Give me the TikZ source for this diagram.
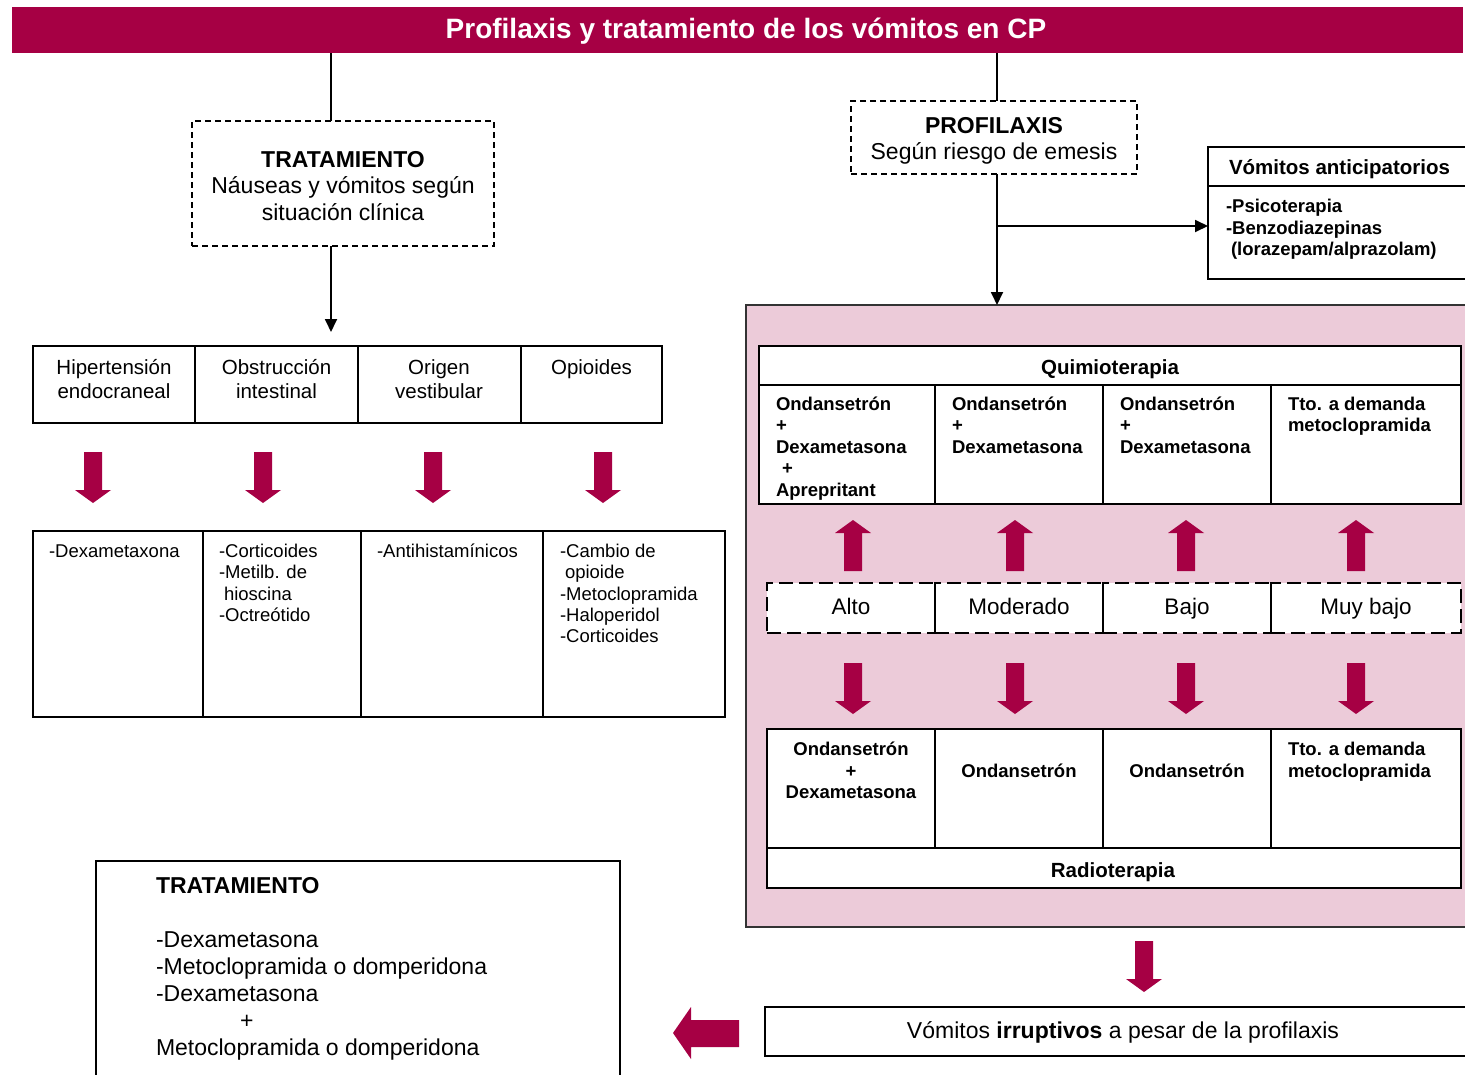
\documentclass[tikz,border=0pt]{standalone}
\usepackage{fontspec}
\setmainfont{Liberation Sans}
\usetikzlibrary{arrows.meta}
\definecolor{crim}{HTML}{A60044}
\definecolor{pinkbg}{HTML}{ECCBD9}
\newcommand\tr{\rule{0pt}{1em}}
\newcommand\fsz[2]{\fontsize{#1pt}{#2pt}\selectfont}
\newcommand\bx[6]{\node[#6, anchor=north west, inner sep=0pt, outer sep=0pt, minimum width=#4pt-#2pt, minimum height=#5pt-#3pt] (#1) at (#2,#3) {};}
\tikzset{
  cell/.style={draw=black, line width=2pt, fill=white},
  dbox/.style={draw=black, line width=1.5pt, dash pattern=on 6pt off 4pt, fill=white},
  riskbox/.style={draw=black, line width=2pt, dash pattern=on 14pt off 6pt, fill=white},
  t/.style={inner sep=0pt, outer sep=0pt},
  conn/.style={draw=black, line width=1.8pt},
  arr/.style={conn, -{Triangle[length=13pt,width=12pt]}},
  redarr/.pic={\fill[crim] (-9,0) -- (9,0) -- (9,38) -- (18,38) -- (0,51) -- (-18,38) -- (-9,38) -- cycle;},
  fT/.style={font=\fsz{23}{26.5}},
  fR/.style={font=\fsz{20.5}{24}},
  fS/.style={font=\fsz{18.5}{21.3}},
  fB/.style={font=\fsz{18.5}{21.5}\bfseries},
  fH/.style={font=\fsz{20.5}{24}\bfseries},
}
\begin{document}
\begin{tikzpicture}[x=1pt,y=-1pt]
\useasboundingbox (0,0) rectangle (1465,1074);

% title
\bx{titlebar}{12}{7}{1463}{53}{fill=crim}
\node[t, text=white, font=\fsz{28}{32}\bfseries, anchor=base] (title) at (746,38) {Profilaxis y tratamiento de los vómitos en CP};

% ---------- left branch ----------
\bx{trat}{192}{121}{494}{246}{dbox}
\node[t, fT, align=center, anchor=north] (tratT) at (343,144) {\tr\textbf{TRATAMIENTO}\\Náuseas y vómitos según\\situación clínica};
\draw[conn] (331,0 |- titlebar.south) -- (331,0 |- trat.north);
\coordinate (tratEnd) at (331,332);
\draw[arr] (tratEnd |- trat.south) -- (tratEnd);

\bx{h1}{33}{346}{195}{423}{cell}
\bx{h2}{195}{346}{358}{423}{cell}
\bx{h3}{358}{346}{521}{423}{cell}
\bx{h4}{521}{346}{662}{423}{cell}
\node[t, fR, align=center, anchor=north] (h1t) at (114,354) {\tr Hipertensión\\endocraneal};
\node[t, fR, align=center, anchor=north] (h2t) at (276.5,354) {\tr Obstrucción\\intestinal};
\node[t, fR, align=center, anchor=north] (h3t) at (439,354) {\tr Origen\\vestibular};
\node[t, fR, align=center, anchor=north] (h4t) at (591.5,354) {\tr Opioides};

\pic at (93,452) {redarr};
\pic at (263,452) {redarr};
\pic at (433,452) {redarr};
\pic at (603,452) {redarr};

\bx{b1}{33}{531}{203}{717}{cell}
\bx{b2}{203}{531}{361}{717}{cell}
\bx{b3}{361}{531}{543}{717}{cell}
\bx{b4}{543}{531}{725}{717}{cell}
\node[t, fS, align=left, anchor=north west] (b1t) at (49,539) {\tr -Dexametaxona};
\node[t, fS, align=left, anchor=north west] (b2t) at (219,539) {\tr -Corticoides\\-Metilb. de\\\hspace*{5pt}hioscina\\-Octreótido};
\node[t, fS, align=left, anchor=north west] (b3t) at (377,539) {\tr -Antihistamínicos};
\node[t, fS, align=left, anchor=north west] (b4t) at (560,539) {\tr -Cambio de\\\hspace*{5pt}opioide\\-Metoclopramida\\-Haloperidol\\-Corticoides};

% ---------- right branch ----------
\bx{pinkbox}{746}{305}{1472}{927}{draw=black!80, fill=pinkbg, line width=1.5pt}

\bx{prof}{851}{101}{1137}{174}{dbox}
\node[t, fT, align=center, anchor=north] (profT) at (994,110) {\tr\textbf{PROFILAXIS}\\Según riesgo de emesis};
\draw[conn] (997,0 |- titlebar.south) -- (997,0 |- prof.north);
\draw[arr] (997,0 |- prof.south) -- (997,0 |- pinkbox.north);

\bx{antich}{1208}{147}{1472}{186}{cell}
\bx{anticb}{1208}{186}{1472}{279}{cell}
\node[t, fH, anchor=base west] (antichT) at (1229,174.5) {Vómitos anticipatorios};
\node[t, fB, align=left, anchor=north west] (anticbT) at (1226,194) {\tr -Psicoterapia\\-Benzodiazepinas\\\hspace*{5pt}(lorazepam/alprazolam)};
\coordinate (br) at (997,226);
\draw[arr] (br) -- (br -| anticb.west);

% quimioterapia
\bx{qh}{759}{346}{1461}{385}{cell}
\bx{q1}{759}{385}{935}{504}{cell}
\bx{q2}{935}{385}{1103}{504}{cell}
\bx{q3}{1103}{385}{1271}{504}{cell}
\bx{q4}{1271}{385}{1461}{504}{cell}
\node[t, fH, anchor=base] (qhT) at (1110,374.5) {Quimioterapia};
\node[t, fB, align=left, anchor=north west] (q1t) at (776,391.5) {\tr Ondansetrón\\+\\Dexametasona\\\hspace*{6pt}+\\Aprepritant};
\node[t, fB, align=left, anchor=north west] (q2t) at (952,391.5) {\tr Ondansetrón\\+\\Dexametasona};
\node[t, fB, align=left, anchor=north west] (q3t) at (1120,391.5) {\tr Ondansetrón\\+\\Dexametasona};
\node[t, fB, align=left, anchor=north west] (q4t) at (1288,391.5) {\tr Tto. a demanda\\metoclopramida};

\pic[rotate=180] at (853,571) {redarr};
\pic[rotate=180] at (1015,571) {redarr};
\pic[rotate=180] at (1186,571) {redarr};
\pic[rotate=180] at (1356,571) {redarr};

% risk levels
\bx{r1}{767}{583}{935}{633}{riskbox}
\bx{r2}{935}{583}{1103}{633}{riskbox}
\bx{r3}{1103}{583}{1271}{633}{riskbox}
\bx{r4}{1271}{583}{1461}{633}{riskbox}
\draw[line width=1.8pt] (r1.north east) -- (r1.south east);
\draw[line width=1.8pt] (r2.north east) -- (r2.south east);
\draw[line width=1.8pt] (r3.north east) -- (r3.south east);
\node[t, font=\fsz{22.5}{26}, anchor=base] (r1t) at (851,614) {Alto};
\node[t, font=\fsz{22.5}{26}, anchor=base] (r2t) at (1019,614) {Moderado};
\node[t, font=\fsz{22.5}{26}, anchor=base] (r3t) at (1187,614) {Bajo};
\node[t, font=\fsz{22.5}{26}, anchor=base] (r4t) at (1366,614) {Muy bajo};

\pic at (853,663) {redarr};
\pic at (1015,663) {redarr};
\pic at (1186,663) {redarr};
\pic at (1356,663) {redarr};

% radioterapia
\bx{rc1}{767}{729}{935}{848}{cell}
\bx{rc2}{935}{729}{1103}{848}{cell}
\bx{rc3}{1103}{729}{1271}{848}{cell}
\bx{rc4}{1271}{729}{1461}{848}{cell}
\bx{rh}{767}{848}{1461}{888}{cell}
\node[t, fB, align=center, anchor=north] (rc1t) at (851,737) {\tr Ondansetrón\\+\\Dexametasona};
\node[t, fB, anchor=base] (rc2t) at (1019,777) {Ondansetrón};
\node[t, fB, anchor=base] (rc3t) at (1187,777) {Ondansetrón};
\node[t, fB, align=left, anchor=north west] (rc4t) at (1288,737) {\tr Tto. a demanda\\metoclopramida};
\node[t, fH, anchor=base] (rhT) at (1113,877) {Radioterapia};

% bottom
\pic at (1144,941) {redarr};
\bx{irr}{765}{1007}{1472}{1056}{draw=black, line width=1.5pt, fill=white}
\node[t, font=\fsz{23}{26}, anchor=base] (irrT) at (1123,1038) {Vómitos \textbf{irruptivos} a pesar de la profilaxis};
\fill[crim] (739,1020) -- (691,1020) -- (691,1007) -- (673,1033) -- (691,1059) -- (691,1047) -- (739,1047) -- cycle;

\bx{tb}{96}{861}{620}{1090}{draw=black, line width=1.5pt, fill=white}
\node[t, font=\fsz{23}{27}, align=left, anchor=north west] (tbT) at (156,870) {\tr\textbf{TRATAMIENTO}\\[27pt]-Dexametasona\\-Metoclopramida o domperidona\\-Dexametasona\\\hspace*{84pt}+\\Metoclopramida o domperidona};
\end{tikzpicture}
\end{document}
